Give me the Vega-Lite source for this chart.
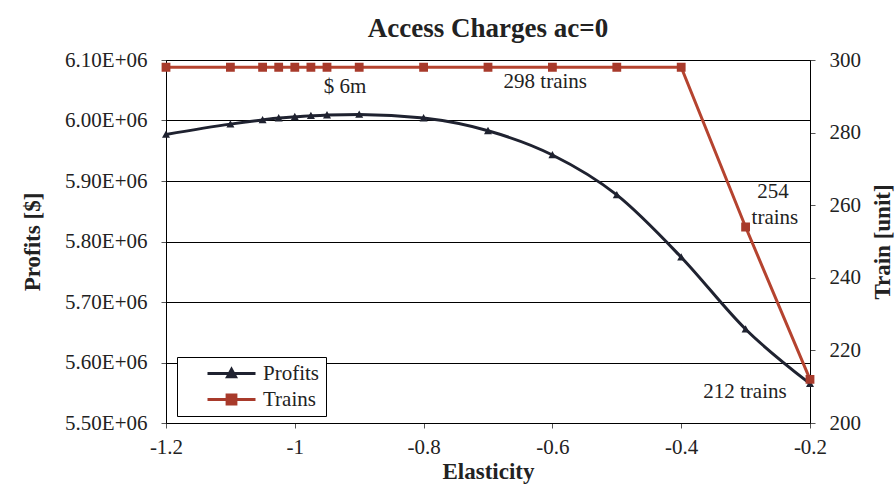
{
  "$schema": "https://vega.github.io/schema/vega-lite/v6.json",
  "autosize": {"type": "none"},
  "width": 644,
  "height": 363,
  "padding": {"left": 166, "top": 60, "right": 86, "bottom": 70},
  "background": "white",
  "config": {
    "font": "Times New Roman, Liberation Serif, serif",
    "view": {"stroke": "black", "strokeWidth": 1},
    "axis": {"labelFont": "Times New Roman, Liberation Serif, serif", "titleFont": "Times New Roman, Liberation Serif, serif", "labelFontSize": 21, "titleFontSize": 23, "labelColor": "#222", "titleColor": "#222", "titleFontWeight": "bold", "domainColor": "black", "tickColor": "#555", "tickSize": 5, "gridColor": "black", "gridWidth": 1, "gridOpacity": 1},
    "legend": {"labelFont": "Times New Roman, Liberation Serif, serif"},
    "text": {"font": "Times New Roman, Liberation Serif, serif"}
  },
  "title": {"text": "Access Charges ac=0", "font": "Times New Roman, Liberation Serif, serif", "fontSize": 27, "fontWeight": "bold", "color": "#222", "anchor": "middle", "offset": 6},
  "data": {"values": [
    {"elasticity": -1.2, "profits": 5977000, "trains": 298},
    {"elasticity": -1.1, "profits": 5994000, "trains": 298},
    {"elasticity": -1.05, "profits": 6001000, "trains": 298},
    {"elasticity": -1.025, "profits": 6004000, "trains": 298},
    {"elasticity": -1.0, "profits": 6006000, "trains": 298},
    {"elasticity": -0.975, "profits": 6008000, "trains": 298},
    {"elasticity": -0.95, "profits": 6009000, "trains": 298},
    {"elasticity": -0.9, "profits": 6010000, "trains": 298},
    {"elasticity": -0.8, "profits": 6004000, "trains": 298},
    {"elasticity": -0.7, "profits": 5983000, "trains": 298},
    {"elasticity": -0.6, "profits": 5943000, "trains": 298},
    {"elasticity": -0.5, "profits": 5877000, "trains": 298},
    {"elasticity": -0.4, "profits": 5774000, "trains": 298},
    {"elasticity": -0.3, "profits": 5655000, "trains": 254},
    {"elasticity": -0.2, "profits": 5565000, "trains": 212}
  ]},
  "encoding": {
    "x": {"field": "elasticity", "type": "quantitative", "scale": {"domain": [-1.2, -0.2], "nice": false, "zero": false},
      "axis": {"title": "Elasticity", "values": [-1.2, -1, -0.8, -0.6, -0.4, -0.2], "labelExpr": "replace(format(datum.value, '~g'), '\u2212', '-')", "grid": false, "labelPadding": 8, "titleY": 48, "titleBaseline": "middle", "labelFlush": false}}
  },
  "layer": [
    {
      "layer": [
        {
          "mark": {"type": "line", "interpolate": "monotone", "color": "#1f2230", "strokeWidth": 3},
          "encoding": {
            "y": {"field": "profits", "type": "quantitative", "scale": {"domain": [5500000, 6100000], "nice": false, "zero": false},
              "axis": {"title": "Profits [$]", "values": [5500000, 5600000, 5700000, 5800000, 5900000, 6000000, 6100000], "labelExpr": "format(datum.value/1000000, '.2f') + 'E+06'", "grid": true, "labelPadding": 14, "titleX": -134, "titleAngle": -90, "titleBaseline": "middle"}}
          }
        },
        {
          "mark": {"type": "point", "filled": true, "size": 256, "opacity": 1},
          "encoding": {
            "y": {"field": "profits", "type": "quantitative"},
            "color": {"datum": "Profits", "type": "nominal", "scale": {"domain": ["Profits", "Trains"], "range": ["#1f2230", "#a83a2b"]},
              "legend": {"title": null, "orient": "none", "legendX": 11, "legendY": 297, "fillColor": "white", "strokeColor": "black", "padding": 6, "labelFontSize": 21, "labelFont": "Times New Roman, Liberation Serif, serif", "labelColor": "#222", "symbolSize": 256, "symbolOffset": 38, "rowPadding": 4, "labelOffset": 21,
                "encoding": {"symbols": {"stroke": {"value": {"expr": "scale('color', datum.value)"}}, "strokeWidth": {"value": 3}}}}},
            "shape": {"datum": "Profits", "type": "nominal", "scale": {"domain": ["Profits", "Trains"], "range": ["M-3,0H3M-0.5,0.42L0,-0.5L0.5,0.42Z", "M-3,0H3M-0.55,-0.55H0.55V0.55H-0.55Z"]}}
          }
        },
        {
          "data": {"values": [{"elasticity": -0.922, "profits": 6055000, "label": "$ 6m"}]},
          "mark": {"type": "text", "fontSize": 21, "font": "Times New Roman, Liberation Serif, serif", "color": "#222", "baseline": "middle", "align": "center"},
          "encoding": {"y": {"field": "profits", "type": "quantitative"}, "text": {"field": "label"}}
        }
      ]
    },
    {
      "layer": [
        {
          "mark": {"type": "line", "color": "#b5432f", "strokeWidth": 3},
          "encoding": {
            "y": {"field": "trains", "type": "quantitative", "scale": {"domain": [200, 300], "nice": false, "zero": false},
              "axis": {"title": "Train [unit]", "orient": "right", "values": [200, 210, 220, 230, 240, 250, 260, 270, 280, 290, 300], "grid": false, "labelPadding": 14, "titleX": 72, "titleAngle": -90, "titleBaseline": "middle"}}
          }
        },
        {
          "mark": {"type": "point", "filled": true, "size": 256, "opacity": 1},
          "encoding": {
            "y": {"field": "trains", "type": "quantitative"},
            "color": {"datum": "Trains", "type": "nominal"},
            "shape": {"datum": "Trains", "type": "nominal"}
          }
        },
        {
          "data": {"values": [
            {"elasticity": -0.611, "trains": 293.9, "label": "298 trains"},
            {"elasticity": -0.2575, "trains": 263.6, "label": "254"},
            {"elasticity": -0.2545, "trains": 256.5, "label": "trains"},
            {"elasticity": -0.301, "trains": 208.5, "label": "212 trains"}
          ]},
          "mark": {"type": "text", "fontSize": 21, "font": "Times New Roman, Liberation Serif, serif", "color": "#222", "baseline": "middle", "align": "center"},
          "encoding": {"y": {"field": "trains", "type": "quantitative"}, "text": {"field": "label"}}
        }
      ]
    }
  ],
  "resolve": {"scale": {"y": "independent"}}
}
